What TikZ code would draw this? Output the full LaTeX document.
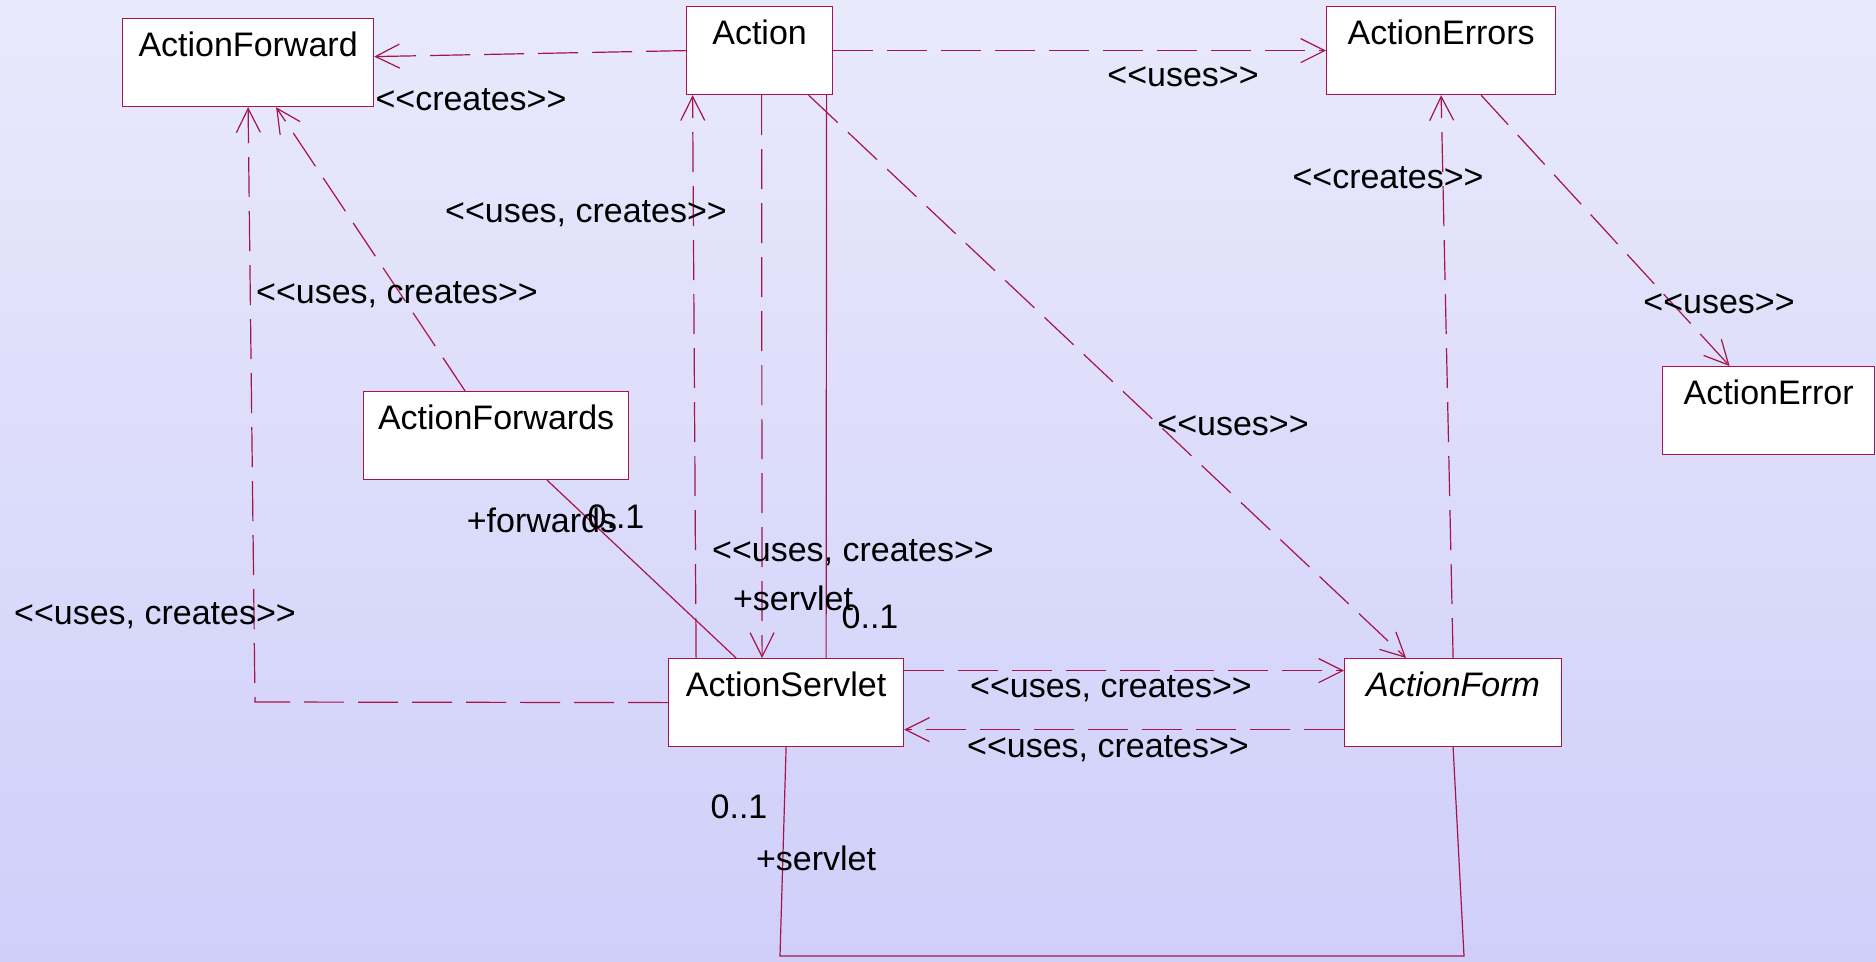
\documentclass[tikz,border=0pt]{standalone}
\usepackage{fontspec}
\setmainfont{Liberation Sans}[Ligatures=TeXOff]
\usetikzlibrary{arrows.meta}

\definecolor{umlline}{RGB}{165,20,75}
\definecolor{bgtop}{RGB}{233,233,252}
\definecolor{bgbottom}{RGB}{207,207,250}

\newcommand{\umlst}[1]{<\kern0pt<#1>\kern0pt>}

\tikzset{
  classbox/.style={draw=umlline, line width=1.2pt, fill=white, anchor=north west,
    minimum height=88pt, text height=30pt, text depth=43pt, inner ysep=7.5pt, inner xsep=0pt},
  dep/.style={draw=umlline, line width=1.2pt, dash pattern=on 40pt off 14pt,
    -{Straight Barb[length=24pt,width=24pt]}},
  assoc/.style={draw=umlline, line width=1.2pt},
  lbl/.style={anchor=base, inner sep=0pt},
}

\begin{document}
\begin{tikzpicture}[x=1pt, y=-1pt, every node/.append style={font=\fontsize{34}{40}\selectfont}]

	% background
	\shade[top color=bgtop, bottom color=bgbottom] (0,0) rectangle (1876,961);
	\useasboundingbox (0,0) rectangle (1876,961);

	%---------------------
	% classes
	%---------------------
	\node[classbox, minimum width=251pt] (fwd) at (122,18) {ActionForward};
	\node[classbox, minimum width=146pt] (act) at (686,6) {Action};
	\node[classbox, minimum width=229pt] (errs) at (1326,6) {ActionErrors};
	\node[classbox, minimum width=212pt] (err) at (1662,366) {ActionError};
	\node[classbox, minimum width=265pt] (fwds) at (363,391) {ActionForwards};
	\node[classbox, minimum width=235pt] (srv) at (668,658) {ActionServlet};
	\node[classbox, minimum width=217pt] (form) at (1344,658) {\itshape ActionForm};

	%---------------------
	% dependencies
	%---------------------
	% Action -> ActionForward
	\draw[dep] (act.west) -- ([yshift=6pt]fwd.east);
	\node[lbl] (crfwd) at (471,110) {\umlst{creates}};

	% Action -> ActionErrors
	\draw[dep] (act.east) -- (errs.west);
	\node[lbl] (useerrs) at (1183,86) {\umlst{uses}};

	% ActionErrors -> ActionError
	\draw[dep] ([xshift=40pt]errs.south) -- ([xshift=-39pt]err.north);
	\node[lbl] (useerr) at (1719,313) {\umlst{uses}};

	% ActionForm -> ActionErrors
	\draw[dep] (form.north) -- (errs.south);
	\node[lbl] (crerrs) at (1388,188) {\umlst{creates}};

	% Action -> ActionForm
	\draw[dep] ([xshift=49pt]act.south) -- ([xshift=-47pt]form.north);
	\node[lbl] (useform) at (1233,435) {\umlst{uses}};

	% ActionServlet -> Action
	\draw[dep] ([xshift=-90pt]srv.north) -- ([xshift=-67pt]act.south);
	\node[lbl] (ucact) at (586,222) {\umlst{uses, creates}};

	% Action -> ActionServlet
	\draw[dep] ([xshift=2pt]act.south) -- ([xshift=-24pt]srv.north);
	\node[lbl] (ucsrv) at (853,561) {\umlst{uses, creates}};

	% ActionForwards -> ActionForward
	\draw[dep] ([xshift=-31pt]fwds.north) -- ([xshift=28pt]fwd.south);
	\node[lbl] (ucfwds) at (397,303) {\umlst{uses, creates}};

	% ActionServlet -> ActionForward
	\coordinate (fwdbend) at (255,702);
	\draw[dep] (srv.west) -- (fwdbend) -- (fwd.south);
	\node[lbl] (ucfwd) at (155,624) {\umlst{uses, creates}};

	% ActionServlet <-> ActionForm
	\draw[dep] ([yshift=32pt]srv.east) -- ([yshift=32pt]form.west);
	\node[lbl] (ucform) at (1111,697) {\umlst{uses, creates}};
	\draw[dep] ([yshift=-27pt]form.west) -- ([yshift=-27pt]srv.east);
	\node[lbl] (ucback) at (1108,757) {\umlst{uses, creates}};

	%---------------------
	% associations
	%---------------------
	% Action -- ActionServlet
	\draw[assoc] ([xshift=67pt]act.south) -- ([xshift=40pt]srv.north);
	\node[lbl] (actrole) at (793,610) {+servlet};
	\node[lbl] (actmult) at (870,628) {0..1};

	% ActionForwards -- ActionServlet
	\draw[assoc] ([xshift=51pt]fwds.south) -- ([xshift=-50pt]srv.north);
	\node[lbl] (fwdsrole) at (542,532) {+forwards};
	\node[lbl] (fwdsmult) at (616,528) {0..1};

	% ActionServlet -- ActionForm
	\coordinate (loopl) at (780,956);
	\coordinate (loopr) at (1464,956);
	\draw[assoc] (srv.south) -- (loopl) -- (loopr) -- (form.south);
	\node[lbl] (formmult) at (739,818) {0..1};
	\node[lbl] (formrole) at (816,870) {+servlet};

\end{tikzpicture}
\end{document}
